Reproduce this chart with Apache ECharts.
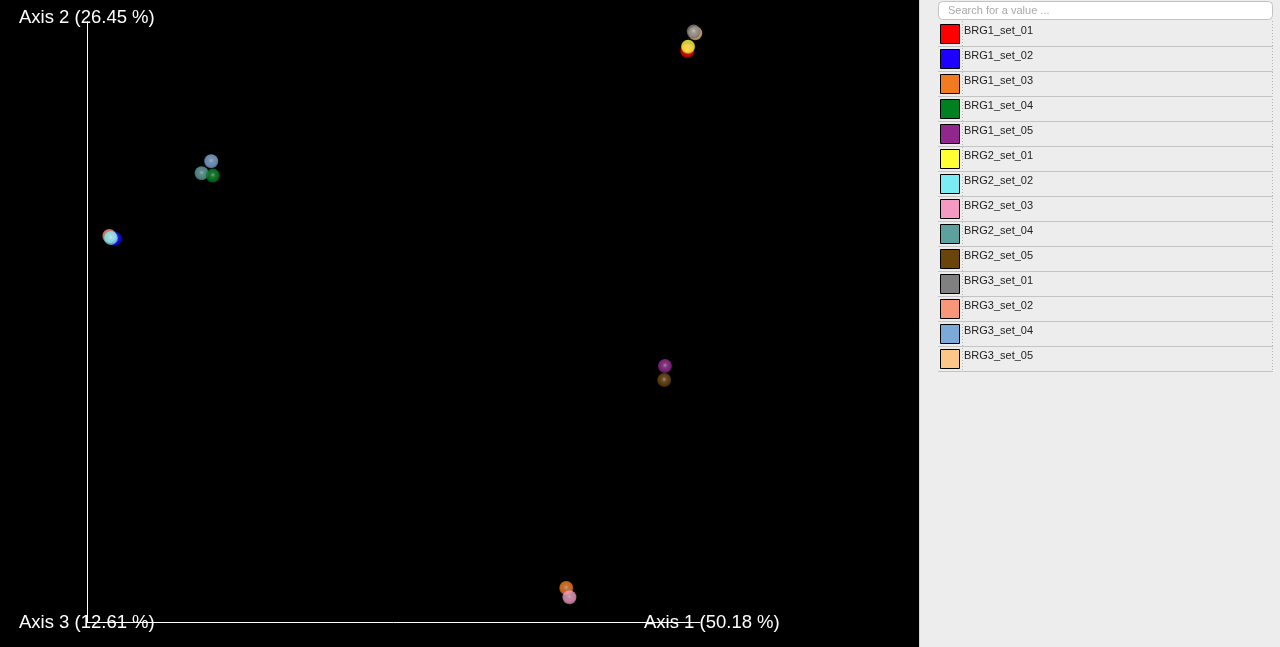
<!DOCTYPE html>
<html><head><meta charset="utf-8">
<script src="https://cdn.jsdelivr.net/npm/echarts@6/dist/echarts.min.js"></script>
<style>html,body{margin:0;padding:0;background:#000;}#c{width:1280px;height:647px;}</style>
</head><body><div id="c"></div>
<script>
// Samples (legend order)
const names = ['BRG1_set_01','BRG1_set_02','BRG1_set_03','BRG1_set_04','BRG1_set_05',
  'BRG2_set_01','BRG2_set_02','BRG2_set_03','BRG2_set_04','BRG2_set_05',
  'BRG3_set_01','BRG3_set_02','BRG3_set_04','BRG3_set_05'];
const colors = ['#ff0000','#1d00ff','#f27a20','#008020','#91278d',
  '#ffff33','#7cecf4','#f49ac2','#5da09e','#6b440b',
  '#808080','#f79679','#7da9d8','#fcc688'];
// PC coordinates (Axis 1, Axis 2)
const pc1 = [0.404,-0.315,0.252,-0.192,0.376, 0.405,-0.320,0.256,-0.206,0.375, 0.412,-0.322,-0.194,0.414];
const pc2 = [0.314,0.079,-0.3575,0.158,-0.080, 0.319,0.080,-0.369,0.161,-0.0975, 0.338,0.0825,0.176,0.336];
// back-to-front drawing order
const drawOrder = [0,1,11,2,8,3,4,9,12,13,10,5,6,7];
const axisNames = ['Axis 1 (50.18 %)','Axis 2 (26.45 %)','Axis 3 (12.61 %)'];

function shade(hex, f){
  const n=parseInt(hex.slice(1),16);let r=n>>16,g=(n>>8)&255,b=n&255;
  if(f>=0){r+= (255-r)*f;g+=(255-g)*f;b+=(255-b)*f;}else{r*=1+f;g*=1+f;b*=1+f;}
  return 'rgb('+Math.round(r)+','+Math.round(g)+','+Math.round(b)+')';
}
const data = drawOrder.map(i=>({
  name:names[i], value:[pc1[i],pc2[i]],
  itemStyle:{color:{type:'radial',x:0.5,y:0.45,r:0.55,colorStops:[
    {offset:0,color:shade(colors[i],0.6)},{offset:0.3,color:shade(colors[i],0.15)},{offset:0.75,color:colors[i]},{offset:1,color:shade(colors[i],-0.3)}]}}
}));

const font = '18.5px "Liberation Sans", Arial';
const graphics = [
  {type:'rect',shape:{x:919,y:0,width:361,height:647},style:{fill:'#ededed'},z:-1,silent:true},
  {type:'line',shape:{x1:919.5,y1:0,x2:919.5,y2:647},style:{stroke:'#d6d6d6',lineWidth:1}},
  {type:'rect',shape:{x:938.5,y:1.5,width:334,height:18,r:4},style:{fill:'#fff',stroke:'#c3c3c3',lineWidth:1}},
  {type:'text',x:948,y:11,style:{text:'Search for a value ...',fill:'#a9a9a9',font:'11px "Liberation Sans", Arial',verticalAlign:'middle'}},
  {type:'text',x:19,y:18,style:{text:axisNames[1],fill:'#fff',font:font,verticalAlign:'middle'},z:10},
  {type:'text',x:19,y:623,style:{text:axisNames[2],fill:'#fff',font:font,verticalAlign:'middle'},z:10},
  {type:'text',x:644,y:623,style:{text:axisNames[0],fill:'#fff',font:font,verticalAlign:'middle'},z:10},
  {type:'line',shape:{x1:962.5,y1:21,x2:962.5,y2:371},style:{stroke:'#b5b5b5',lineWidth:1,lineDash:[1,2]}},
  {type:'line',shape:{x1:1272.5,y1:21,x2:1272.5,y2:371},style:{stroke:'#b5b5b5',lineWidth:1,lineDash:[1,2]}}
];
names.forEach((n,i)=>{
  const y0 = 21 + 25*i;
  graphics.push({type:'rect',shape:{x:940.5,y:y0+3.5,width:19,height:19},style:{fill:colors[i],stroke:'#000',lineWidth:1}});
  graphics.push({type:'text',x:964,y:y0+10,style:{text:n,fill:'#222',font:'11px "Liberation Sans", Arial',verticalAlign:'middle'}});
  graphics.push({type:'line',shape:{x1:938,y1:y0+25.5,x2:1273,y2:y0+25.5},style:{stroke:'#c4c4c4',lineWidth:1}});
});

const chart = echarts.init(document.getElementById('c'));
chart.setOption({
  backgroundColor:'#000',
  animation:false,
  grid:{left:87,top:22,width:613,height:600},
  xAxis:{type:'value',min:-0.35,max:0.42,axisLine:{show:true,onZero:false,lineStyle:{color:'#fff',width:1}},
    axisTick:{show:false},axisLabel:{show:false},splitLine:{show:false}},
  yAxis:{type:'value',min:-0.4,max:0.35,axisLine:{show:true,onZero:false,lineStyle:{color:'#fff',width:1}},
    axisTick:{show:false},axisLabel:{show:false},splitLine:{show:false}},
  series:[{type:'scatter',clip:false,symbol:'circle',symbolSize:14,data:data}],
  graphic:graphics
});
</script></body></html>
